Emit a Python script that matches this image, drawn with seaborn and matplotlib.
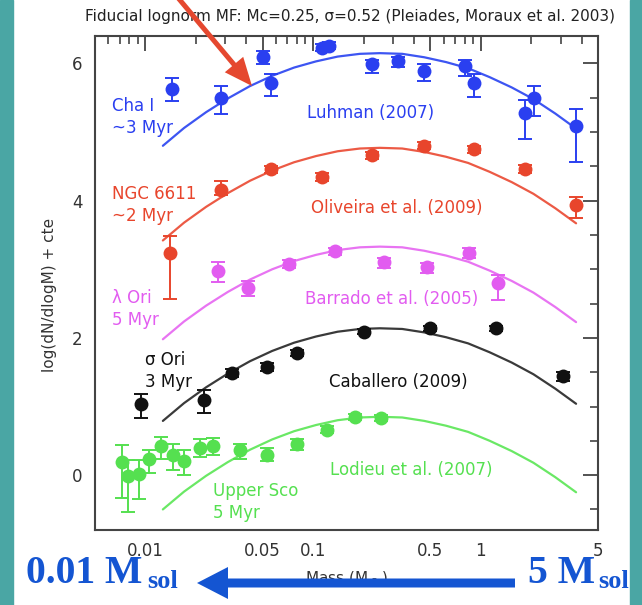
import matplotlib
matplotlib.use('Agg')
import matplotlib.pyplot as plt
import matplotlib.ticker as mticker
from matplotlib.patches import FancyArrow, Rectangle
from matplotlib.transforms import IdentityTransform
import seaborn as sns

# fiducial lognormal curves
curve_mass = [0.0127, 0.017, 0.023, 0.031, 0.042, 0.057, 0.077, 0.104, 0.14, 0.19,
              0.25, 0.34, 0.46, 0.62, 0.84, 1.13, 1.53, 2.06, 2.78, 3.7]
cha_curve = [4.80, 5.06, 5.29, 5.49, 5.67, 5.82, 5.94, 6.03, 6.10, 6.14,
             6.15, 6.14, 6.09, 6.02, 5.93, 5.80, 5.65, 5.48, 5.27, 5.05]
ngc_curve = [3.42, 3.68, 3.91, 4.11, 4.29, 4.44, 4.56, 4.65, 4.72, 4.76,
             4.77, 4.76, 4.71, 4.64, 4.55, 4.42, 4.27, 4.10, 3.89, 3.67]
lam_curve = [1.98, 2.24, 2.47, 2.67, 2.85, 3.00, 3.12, 3.21, 3.28, 3.32,
             3.33, 3.32, 3.27, 3.20, 3.11, 2.98, 2.83, 2.66, 2.45, 2.23]
sig_curve = [0.79, 1.05, 1.28, 1.48, 1.66, 1.81, 1.93, 2.02, 2.09, 2.13,
             2.14, 2.13, 2.08, 2.01, 1.92, 1.79, 1.64, 1.47, 1.26, 1.04]
usco_curve = [-0.50, -0.24, -0.01, 0.19, 0.37, 0.52, 0.64, 0.73, 0.80, 0.84,
              0.85, 0.84, 0.79, 0.72, 0.63, 0.50, 0.35, 0.18, -0.03, -0.25]

# cluster data: mass, value, lower error, upper error
cha_mass = [0.0143, 0.0284, 0.050, 0.0558, 0.113, 0.125, 0.225, 0.32, 0.458, 0.81, 0.91, 1.83, 2.07, 3.71]
cha_val = [5.63, 5.50, 6.10, 5.72, 6.23, 6.26, 5.99, 6.03, 5.89, 5.96, 5.72, 5.28, 5.50, 5.09]
cha_lo = [0.18, 0.24, 0.11, 0.19, 0.05, 0.05, 0.13, 0.08, 0.15, 0.14, 0.21, 0.38, 0.26, 0.53]
cha_hi = [0.16, 0.17, 0.08, 0.12, 0.05, 0.05, 0.06, 0.06, 0.10, 0.09, 0.12, 0.19, 0.17, 0.24]

ngc_mass = [0.0141, 0.0284, 0.0558, 0.113, 0.225, 0.458, 0.91, 1.83, 3.71]
ngc_val = [3.23, 4.16, 4.46, 4.35, 4.66, 4.80, 4.75, 4.46, 3.93]
ngc_lo = [0.67, 0.08, 0.05, 0.06, 0.05, 0.05, 0.05, 0.06, 0.18]
ngc_hi = [0.25, 0.12, 0.05, 0.06, 0.05, 0.05, 0.05, 0.06, 0.13]

lam_mass = [0.027, 0.0409, 0.072, 0.135, 0.264, 0.475, 0.85, 1.26]
lam_val = [2.98, 2.73, 3.08, 3.26, 3.10, 3.03, 3.24, 2.80]
lam_lo = [0.16, 0.12, 0.06, 0.05, 0.08, 0.08, 0.07, 0.25]
lam_hi = [0.13, 0.10, 0.06, 0.05, 0.06, 0.06, 0.07, 0.12]

sig_mass = [0.0094, 0.0222, 0.0326, 0.0529, 0.0804, 0.200, 0.496, 1.23, 3.10]
sig_val = [1.04, 1.09, 1.49, 1.58, 1.78, 2.09, 2.14, 2.14, 1.45]
sig_lo = [0.21, 0.18, 0.06, 0.06, 0.05, 0.04, 0.04, 0.04, 0.08]
sig_hi = [0.14, 0.15, 0.06, 0.06, 0.05, 0.04, 0.04, 0.04, 0.06]

usco_mass = [0.00725, 0.00784, 0.0091, 0.0105, 0.0124, 0.0146, 0.0170, 0.0211,
             0.0253, 0.0366, 0.0532, 0.0797, 0.121, 0.178, 0.254]
usco_val = [0.19, -0.02, 0.01, 0.23, 0.42, 0.29, 0.21, 0.39, 0.42, 0.36, 0.30, 0.45, 0.66, 0.85, 0.83]
usco_lo = [0.53, 0.52, 0.36, 0.20, 0.18, 0.22, 0.21, 0.12, 0.13, 0.12, 0.09, 0.08, 0.05, 0.04, 0.04]
usco_hi = [0.25, 0.24, 0.21, 0.14, 0.14, 0.16, 0.16, 0.13, 0.12, 0.10, 0.09, 0.08, 0.05, 0.04, 0.04]

x_ticks = [0.01, 0.05, 0.1, 0.5, 1, 5]
x_ticklabels = ['0.01', '0.05', '0.1', '0.5', '1', '5']
y_ticks = [0, 2, 4, 6]

sns.set_style('white')
plt.rcParams['font.family'] = ['DejaVu Sans']

fig = plt.figure(figsize=(6.42, 6.05), dpi=100)
ax = fig.add_axes([95 / 642, 75 / 605, 503 / 642, 494 / 605])
ax.set_xscale('log')

groups = [
    (cha_curve, cha_mass, cha_val, cha_lo, cha_hi, '#2a3ff0', '#3d55f2'),
    (ngc_curve, ngc_mass, ngc_val, ngc_lo, ngc_hi, '#e8452c', '#ec5a45'),
    (lam_curve, lam_mass, lam_val, lam_lo, lam_hi, '#e25cf0', '#e874f2'),
    (sig_curve, sig_mass, sig_val, sig_lo, sig_hi, '#111111', '#3a3a3a'),
    (usco_curve, usco_mass, usco_val, usco_lo, usco_hi, '#55e050', '#6ae865'),
]
for curve, m, v, lo, hi, c_pt, c_line in groups:
    sns.lineplot(x=curve_mass, y=curve, color=c_line, lw=1.6, ax=ax)
    ax.errorbar(m, v, yerr=[lo, hi], fmt='none', ecolor=c_pt,
                elinewidth=1.4, capsize=5, capthick=1.4, zorder=3)
    sns.scatterplot(x=m, y=v, color=c_pt, s=100, linewidth=0, ax=ax, zorder=4)

labels = [
    (0.0063, 5.22, 'Cha I\n~3 Myr', '#2a3ff0', 'left'),
    (0.221, 5.28, 'Luhman (2007)', '#2a3ff0', 'center'),
    (0.0063, 3.94, 'NGC 6611\n~2 Myr', '#e8452c', 'left'),
    (0.316, 3.90, 'Oliveira et al. (2009)', '#e8452c', 'center'),
    (0.0063, 2.42, 'λ Ori\n5 Myr', '#e25cf0', 'left'),
    (0.295, 2.57, 'Barrado et al. (2005)', '#e25cf0', 'center'),
    (0.0099, 1.52, 'σ Ori\n3 Myr', '#111111', 'left'),
    (0.321, 1.36, 'Caballero (2009)', '#111111', 'center'),
    (0.0253, -0.39, 'Upper Sco\n5 Myr', '#55e050', 'left'),
    (0.383, 0.07, 'Lodieu et al. (2007)', '#55e050', 'center'),
]
for x, y, s, c, ha in labels:
    ax.text(x, y, s, color=c, fontsize=12, ha=ha, va='center', linespacing=1.25)

ax.set_xlim(0.005, 5)
ax.set_ylim(-0.8, 6.4)
ax.set_xticks(x_ticks)
ax.set_xticklabels(x_ticklabels)
ax.xaxis.set_minor_locator(mticker.LogLocator(base=10, subs=range(2, 10)))
ax.xaxis.set_minor_formatter(mticker.NullFormatter())
ax.set_yticks(y_ticks)
ax.yaxis.set_minor_locator(mticker.MultipleLocator(0.5))
ax.tick_params(which='both', direction='in', top=True, right=True,
               color='#444444', labelcolor='#333333', labelsize=12, pad=9)
ax.tick_params(which='major', length=11, width=1.3)
ax.tick_params(which='minor', length=6, width=1.2)
for sp in ax.spines.values():
    sp.set_color('#444444')
    sp.set_linewidth(1.5)
ax.set_xlabel('')
ax.set_ylabel('')

fig.text(350 / 642, 588 / 605,
         'Fiducial lognorm MF: Mc=0.25, σ=0.52 (Pleiades, Moraux et al. 2003)',
         ha='center', va='center', fontsize=11, color='#222222')
fig.text(50 / 642, 310 / 605, 'log(dN/dlogM) + cte', rotation=90,
         ha='center', va='center', fontsize=11, color='#333333')
fig.text(346 / 642, 27 / 605, 'Mass (M$_\\odot$)', ha='center', va='center',
         fontsize=11, color='#333333')

teal = '#4aa6a4'
fig.add_artist(Rectangle((0, 0), 12.5 / 642, 1, color=teal, transform=fig.transFigure))
fig.add_artist(Rectangle((630 / 642, 0), 12 / 642, 1, color=teal, transform=fig.transFigure))

blue = '#1455d2'
fig.add_artist(FancyArrow(515, 22, -318, 0, width=9, head_width=32, head_length=31,
                          length_includes_head=True, color=blue, lw=0,
                          transform=IdentityTransform(), zorder=6))
fig.add_artist(FancyArrow(174, 612, 78, -93, width=5, head_width=24, head_length=28,
                          length_includes_head=True, color='#e5482f', lw=0,
                          transform=IdentityTransform(), zorder=6))

serif = dict(family='Liberation Serif', weight='bold', color=blue, va='baseline')
fig.text(26 / 642, 22 / 605, '0.01 M', fontsize=28.5, **serif)
fig.text(147 / 642, 17 / 605, 'sol', fontsize=19, **serif)
fig.text(528 / 642, 22 / 605, '5 M', fontsize=28.5, **serif)
fig.text(598 / 642, 17 / 605, 'sol', fontsize=19, **serif)

fig.savefig('out.png', dpi=100, facecolor='white')
